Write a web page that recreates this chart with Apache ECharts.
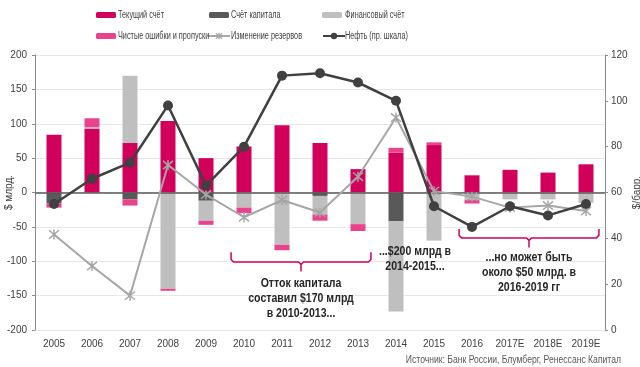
<!DOCTYPE html>
<html>
<head>
<meta charset="utf-8">
<script src="https://cdn.jsdelivr.net/npm/echarts@6/dist/echarts.min.js"></script>
<style>
html,body{margin:0;padding:0;background:#fff;}
#chart{width:640px;height:367px;}
</style>
</head>
<body>
<div id="chart"></div>
<script>
// ---- data ----
const categories = ['2005','2006','2007','2008','2009','2010','2011','2012','2013','2014','2015','2016','2017E','2018E','2019E'];
const currentAccount   = [84, 93, 72, 104, 50, 67, 98, 72, 34, 58, 69, 25, 33, 29, 41];
const capitalAccount   = [-16, 0, -10, 0, -12, 0, 0, -5, 0, -42, 0, 0, 0, 0, 0];
const financialAccount = [0, 2, 98, -140, -29, -22, -76, -27, -46, -131, -70, -11, -10, -10, -15];
const errorsOmissions  = [-6, 13, -9, -3, -6, -8, -8, -9, -10, 7, 4, -5, 0, 0, 0];
const reserveChange    = [-61, -107, -150, 40, -3, -36, -11, -29, 23, 109, 2, -6, -22, -19, -27];
const oilPrice         = [55, 66, 73, 98, 63, 80, 111, 112, 108, 100, 54, 45, 54, 50, 55];
const leftAxisTicks  = {min: -200, max: 200, interval: 50};
const rightAxisTicks = {min: 0, max: 120, interval: 20};
const seriesNames = ['Текущий счёт','Счёт капитала','Финансовый счёт','Чистые ошибки и пропуски','Изменение резервов','Нефть (пр. шкала)'];
const leftAxisName = '$ млрд.';
const rightAxisName = '$/барр.';
const sourceText = 'Источник: Банк России, Блумберг, Ренессанс Капитал';
const annotationTexts = [
  'Отток капитала\nсоставил $170 млрд\nв 2010-2013...',
  '...$200 млрд в\n2014-2015...',
  '...но может быть\nоколо $50 млрд. в\n2016-2019 гг'
];

// ---- styles ----
const SANS = '"Liberation Sans",Arial,sans-serif';
const C_CUR = '#D1005B', C_CAP = '#595959', C_FIN = '#BFBFBF', C_ERR = '#E8438C';
const C_RES = '#A6A6A6', C_OIL = '#404040', C_TXT = '#404040';
const NARROW_SCALE = 0.73;
const STAR = 'path://M0,0L10,10M10,0L0,10M5,-1L5,11';

const chart = echarts.init(document.getElementById('chart'), null, {renderer: 'canvas'});

function barSeries(name, data, color, extra) {
  return Object.assign({
    name: name, type: 'bar', stack: 'total', barWidth: 15, yAxisIndex: 0,
    data: data, itemStyle: {color: color}, emphasis: {disabled: true}
  }, extra || {});
}

// legend layout: [series index, icon left, row top, text left, text centre y, is line]
const legendLayout = [
  [0, 96, 12, 118, 15, false],
  [1, 209, 12, 231, 15, false],
  [2, 322, 12, 345, 15, false],
  [3, 96, 33, 118, 36, false],
  [4, 207, 32, 231, 36, true],
  [5, 322, 32, 345, 36, true]
];

function legendItem(l) {
  const lg = {
    data: [seriesNames[l[0]]], left: l[1], top: l[2], orient: 'horizontal',
    itemWidth: l[5] ? 22 : 20, itemHeight: l[5] ? 8 : 6,
    formatter: function () { return ''; },
    textStyle: {fontSize: 1},
    selectedMode: false, padding: 0
  };
  if (l[0] === 4) {
    lg.itemStyle = {color: 'rgba(0,0,0,0)', borderColor: C_RES, borderWidth: 1.2};
  }
  return lg;
}

const option = {
  animation: false,
  backgroundColor: '#fff',
  legend: legendLayout.map(legendItem),
  grid: {left: 35, right: 35, top: 55, bottom: 37, containLabel: false, outerBoundsMode: 'none'},
  xAxis: {
    type: 'category', data: categories,
    axisLine: {show: false}, axisTick: {show: false},
    axisLabel: {fontFamily: SANS, fontSize: 10, color: C_TXT, margin: 9, interval: 0}
  },
  yAxis: [
    {
      type: 'value', position: 'left',
      min: leftAxisTicks.min, max: leftAxisTicks.max, interval: leftAxisTicks.interval,
      name: leftAxisName, nameLocation: 'middle', nameGap: 21, nameRotate: 90, nameMoveOverlap: false,
      nameTextStyle: {fontFamily: SANS, fontSize: 10, color: C_TXT},
      axisLine: {show: true, lineStyle: {color: '#8C8C8C', width: 1}},
      axisTick: {show: true, length: 3, lineStyle: {color: '#8C8C8C'}},
      axisLabel: {fontFamily: SANS, fontSize: 10, color: C_TXT, margin: 8},
      splitLine: {show: true, lineStyle: {color: '#E6E6E6', width: 1}}
    },
    {
      type: 'value', position: 'right',
      min: rightAxisTicks.min, max: rightAxisTicks.max, interval: rightAxisTicks.interval,
      name: rightAxisName, nameLocation: 'middle', nameGap: 27, nameRotate: 90, nameMoveOverlap: false,
      nameTextStyle: {fontFamily: SANS, fontSize: 10, color: C_TXT},
      axisLine: {show: true, lineStyle: {color: '#8C8C8C', width: 1}},
      axisTick: {show: true, length: 3, lineStyle: {color: '#8C8C8C'}},
      axisLabel: {fontFamily: SANS, fontSize: 10, color: C_TXT, margin: 6},
      splitLine: {show: false}
    }
  ],
  series: [
    barSeries(seriesNames[0], currentAccount, C_CUR),
    barSeries(seriesNames[1], capitalAccount, C_CAP),
    barSeries(seriesNames[2], financialAccount, C_FIN),
    barSeries(seriesNames[3], errorsOmissions, C_ERR, {
      markLine: {
        silent: true, symbol: ['none','none'], label: {show: false},
        lineStyle: {color: '#595959', width: 1.5, type: 'solid'},
        data: [{yAxis: 0}], z: 3
      }
    }),
    {
      name: seriesNames[4], type: 'line', yAxisIndex: 0, data: reserveChange, z: 4,
      symbol: STAR, symbolSize: 10,
      lineStyle: {color: C_RES, width: 2},
      itemStyle: {color: 'rgba(0,0,0,0)', borderColor: C_RES, borderWidth: 1.5},
      emphasis: {disabled: true}
    },
    {
      name: seriesNames[5], type: 'line', yAxisIndex: 1, data: oilPrice, z: 5,
      symbol: 'circle', symbolSize: 10, showAllSymbol: true,
      lineStyle: {color: C_OIL, width: 2.5},
      itemStyle: {color: C_OIL, borderColor: C_OIL, borderWidth: 0},
      emphasis: {disabled: true}
    }
  ]
};

chart.setOption(option);

// ---- annotations anchored to axis coordinates ----
function px(cat, val) { return chart.convertToPixel({xAxisIndex: 0, yAxisIndex: 0}, [cat, val]); }
const step = px(categories[1], 0)[0] - px(categories[0], 0)[0];

const brackets = [
  {from: '2010', to: '2013', top: -87, line: -101, tip: -115},
  {from: '2016', to: '2019E', top: -53, line: -66, tip: -80}
];
const notes = [
  {text: annotationTexts[0], from: '2010', to: '2013', y: -154.5},
  {text: annotationTexts[1], from: '2014', to: '2015', y: -97},
  {text: annotationTexts[2], from: '2016', to: '2019E', y: -117}
];

const elements = [];
// legend labels (narrow-looking text)
legendLayout.forEach(function (l) {
  elements.push({type: 'text', silent: true, z: 10, x: l[3], y: l[4], scaleX: NARROW_SCALE,
    style: {text: seriesNames[l[0]], align: 'left', verticalAlign: 'middle',
      font: '10px ' + SANS, fill: C_TXT}});
});
brackets.forEach(function (b) {
  const x1 = px(b.from, 0)[0] - 0.34 * step;
  const x2 = px(b.to, 0)[0] + 0.34 * step;
  const xm = (x1 + x2) / 2;
  const yT = px(b.from, b.top)[1], yL = px(b.from, b.line)[1], yP = px(b.from, b.tip)[1];
  const st = {stroke: C_CUR, lineWidth: 1.5, fill: null};
  elements.push({type: 'polyline', silent: true, z: 10,
    shape: {points: [[x1, yT], [x1, yL - 2.5], [x1 + 2.5, yL], [xm - 2.5, yL], [xm, yL + 2.5], [xm, yP]]}, style: st});
  elements.push({type: 'polyline', silent: true, z: 10,
    shape: {points: [[x2, yT], [x2, yL - 2.5], [x2 - 2.5, yL], [xm + 2.5, yL], [xm, yL + 2.5]]}, style: st});
});
notes.forEach(function (n) {
  const xa = px(n.from, 0)[0], xb = px(n.to, 0)[0];
  const y = px(n.from, n.y)[1];
  elements.push({type: 'text', silent: true, z: 10, x: (xa + xb) / 2, y: y, scaleX: 0.88,
    style: {text: n.text, align: 'center', verticalAlign: 'middle', lineHeight: 15,
      font: 'bold 12px ' + SANS, fill: '#262626'}});
});
elements.push({type: 'text', silent: true, z: 10, x: 621, y: 360, scaleX: 0.86,
  style: {text: sourceText, align: 'right', verticalAlign: 'middle', font: '10px ' + SANS, fill: '#595959'}});

chart.setOption({graphic: {elements: elements}});
</script>
</body>
</html>
